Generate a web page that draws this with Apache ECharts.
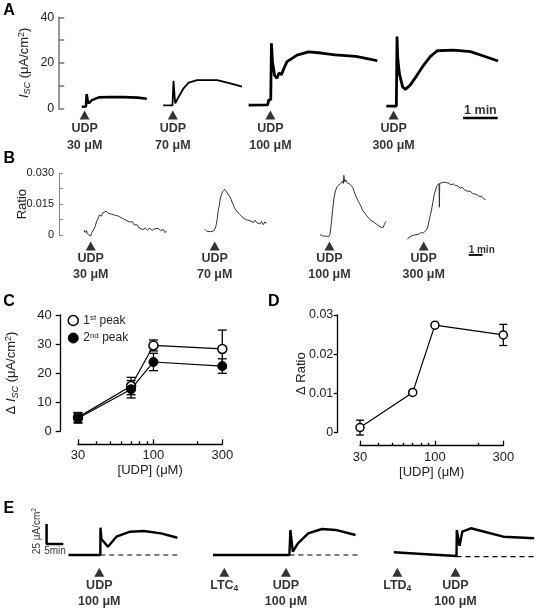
<!DOCTYPE html>
<html><head><meta charset="utf-8">
<script src="https://cdn.jsdelivr.net/npm/echarts@6/dist/echarts.min.js"></script>
<style>html,body{margin:0;padding:0;background:#fff}#c{width:537px;height:611px}</style>
</head><body><div id="c"></div>
<script>
// ---------- DATA ----------
// Panel A: Isc traces (x: minutes along panel, y: uA/cm2)
const traceA1 = [[0.68,0.7],[0.80,0.8],[0.82,6.2],[0.85,3.2],[0.88,2.2],[0.97,3.6],[1.17,4.8],[1.5,5.0],[1.9,4.9],[2.3,4.7],[2.56,4.2]];
const traceA2 = [[3.03,1.3],[3.30,1.3],[3.33,12.1],[3.36,5.5],[3.38,2.2],[3.48,5.1],[3.62,8.8],[3.77,11.3],[4.01,12.4],[4.59,12.4],[4.97,11.0],[5.31,9.5]];
const traceA3 = [[5.5,1.4],[6.05,1.5],[6.08,3.6],[6.14,3.8],[6.16,28.6],[6.19,20.5],[6.25,14.5],[6.32,13.2],[6.38,15.5],[6.45,14.8],[6.52,17.5],[6.61,20.5],[6.9,23.4],[7.23,24.8],[7.6,24.3],[8.0,23.5],[8.6,22.8],[9.0,21.6],[9.22,20.9]];
const traceA4 = [[9.48,1.0],[9.77,1.0],[9.79,31.5],[9.81,22.0],[9.86,15.0],[9.95,9.5],[10.03,8.3],[10.17,10.2],[10.37,14.6],[10.56,19.0],[10.75,22.7],[10.95,25.3],[11.42,25.6],[11.91,24.9],[12.29,23.0],[12.71,20.8]];
const arrowsA = [0.76, 3.31, 6.13, 9.69];
const doseLabelsA = ['30 μM', '70 μM', '100 μM', '300 μM'];
const scaleA = [[11.7, -4.3], [12.7, -4.3]];

// Panel B: ratio traces
const traceB1 = [[1.62,0.0024],[1.7,0.0012],[1.78,0.0022],[1.84,0.0006],[1.95,0.0014],[2.06,-0.0005],[2.12,0.0010],[2.18,0.0003],[2.28,0.0030],[2.35,0.0042],[2.45,0.0068],[2.55,0.0082],[2.62,0.0097],[2.75,0.0092],[2.85,0.0108],[2.95,0.0102],[3.06,0.0116],[3.2,0.0106],[3.3,0.0113],[3.42,0.0101],[3.51,0.0108],[3.65,0.0096],[3.75,0.0103],[3.85,0.0092],[3.95,0.0098],[4.1,0.0082],[4.2,0.0088],[4.35,0.0072],[4.45,0.0077],[4.62,0.0062],[4.75,0.0066],[4.9,0.0048],[5.05,0.0052],[5.17,0.0036],[5.29,0.0040],[5.45,0.0026],[5.6,0.0034],[5.75,0.0024],[5.9,0.0033],[6.05,0.0022],[6.18,0.0030],[6.3,0.0022],[6.45,0.0032],[6.6,0.0020],[6.75,0.0028],[6.88,0.0012],[7.0,0.0020]];
const traceB2 = [[9.47,0.0028],[9.6,0.0018],[9.72,0.0026],[9.85,0.0016],[9.95,0.0024],[10.05,0.0020],[10.18,0.0040],[10.28,0.0080],[10.34,0.0120],[10.4,0.0140],[10.48,0.0180],[10.55,0.0195],[10.62,0.0212],[10.7,0.0205],[10.77,0.0222],[10.84,0.0215],[10.92,0.0205],[11.0,0.0198],[11.1,0.0185],[11.18,0.0176],[11.3,0.0150],[11.4,0.0132],[11.5,0.0120],[11.6,0.0112],[11.73,0.0100],[11.85,0.0096],[11.95,0.0084],[12.05,0.0090],[12.15,0.0074],[12.25,0.0082],[12.4,0.0070],[12.5,0.0078],[12.62,0.0060],[12.72,0.0072],[12.84,0.0060],[12.95,0.0068],[13.05,0.0054],[13.15,0.0066],[13.27,0.0050],[13.37,0.0064],[13.47,0.0056]];
const traceB3 = [[16.96,0.0002],[17.1,-0.0004],[17.22,0.0004],[17.35,-0.0006],[17.45,0.0002],[17.52,-0.0008],[17.6,0.0004],[17.7,0.0070],[17.78,0.0130],[17.86,0.0180],[17.95,0.0215],[18.07,0.0236],[18.17,0.0232],[18.27,0.0250],[18.35,0.0245],[18.41,0.0262],[18.46,0.0250],[18.5,0.0290],[18.55,0.0258],[18.62,0.0268],[18.7,0.0255],[18.78,0.0262],[18.88,0.0248],[18.97,0.0240],[19.07,0.0232],[19.17,0.0210],[19.27,0.0190],[19.4,0.0168],[19.52,0.0152],[19.62,0.0138],[19.72,0.0118],[19.85,0.0108],[19.96,0.0096],[20.08,0.0090],[20.2,0.0074],[20.3,0.0080],[20.41,0.0064],[20.52,0.0070],[20.63,0.0052],[20.74,0.0058],[20.85,0.0040],[20.95,0.0048],[21.05,0.0036],[21.13,0.0052],[21.23,0.0066]];
const traceB4 = [[22.63,-0.0021],[22.75,-0.0010],[22.9,-0.0004],[23.08,0.0000],[23.2,0.0008],[23.35,0.0004],[23.52,0.0012],[23.65,0.0010],[23.76,0.0018],[23.86,0.0024],[23.95,0.0040],[24.05,0.0075],[24.12,0.0100],[24.19,0.0122],[24.28,0.0160],[24.36,0.0195],[24.44,0.0215],[24.52,0.0236],[24.6,0.0240],[24.68,0.0251],[24.7,0.0135],[24.72,0.0250],[24.8,0.0246],[24.9,0.0256],[25.0,0.0250],[25.08,0.0256],[25.2,0.0248],[25.32,0.0252],[25.45,0.0244],[25.6,0.0248],[25.75,0.0240],[25.9,0.0238],[26.05,0.0228],[26.2,0.0232],[26.32,0.0220],[26.42,0.0224],[26.55,0.0212],[26.7,0.0214],[26.85,0.0202],[26.97,0.0206],[27.08,0.0198],[27.2,0.0196],[27.32,0.0186],[27.45,0.0188],[27.58,0.0176],[27.7,0.0172]];
const arrowsB = [2.06, 10.11, 17.56, 23.68];
const doseLabelsB = ['30 μM', '70 μM', '100 μM', '300 μM'];
const scaleB = [[26.6, -0.0097], [27.5, -0.0097]];

// Panels C & D: dose response
const doses = [30, 70, 100, 300];
const peak1 = [4.7, 15.5, 29.5, 28.3];
const peak1Err = [1.7, 3.0, 1.9, 6.5];
const peak2 = [4.4, 14.4, 23.8, 22.4];
const peak2Err = [1.7, 3.0, 3.0, 2.5];
const ratio = [0.0012, 0.0102, 0.0274, 0.0249];
const ratioErr = [0.0019, 0.0004, 0.0004, 0.0027];
const doseTicksMajor = [30, 100, 300];
const doseTicksMinor = [40, 50, 60, 70, 80, 90, 200];

// Panel E
const traceE1 = [[8.48,0],[17.95,0],[18.0,34.1],[18.3,20],[20.21,10.4],[22.74,22.9],[26.82,29.1],[30.89,30],[36.01,27.1],[40.89,21.6]];
const traceE2 = [[51.49,0],[74.23,0],[74.52,31.3],[75.24,4.1],[76.76,14.6],[79.82,27.1],[83.9,32.5],[87.98,31.3],[93.9,25]];
const traceE3 = [[105.3,3.4],[115,1],[123.96,-1.3],[124.05,31.3],[124.88,11.6],[125.68,29.1],[128.24,33.4],[132.83,28.4],[137.92,22.9],[147.08,20.9]];
const baseE1 = [[17.95,0],[41.6,0]];
const baseE2 = [[74.23,0],[94.5,0]];
const baseE3 = [[123.96,-2],[147.1,-2]];
const arrowsE = [17.65, 54.85, 73.21, 106.34, 123.66];
const labelsE = ['UDP\n100 μM', 'LTC{sub|4}', 'UDP\n100 μM', 'LTD{sub|4}', 'UDP\n100 μM'];
const scaleE = [[6.96,13.75],[1.96,13.75],[1.96,38.75]];

// ---------- CHART ----------
const FF = '"Liberation Sans", Arial, Helvetica, sans-serif';
const TXT = '#222';
const chart = echarts.init(document.getElementById('c'), null, {renderer: 'canvas'});

function rich(size) {
  return {
    i: {fontStyle: 'italic', fontSize: size, fontFamily: FF, color: TXT},
    si: {fontStyle: 'italic', fontSize: size - 4, fontFamily: FF, color: TXT, padding: [7, 0, 0, 0]},
    sub: {fontSize: size - 4, fontFamily: FF, color: TXT, padding: [7, 0, 0, 0]},
    sup: {fontSize: size - 4, fontFamily: FF, color: TXT, padding: [0, 0, 6, 0]}
  };
}

function traceSeries(xi, data, w, color) {
  return {type: 'line', xAxisIndex: xi, yAxisIndex: xi, data: data, showSymbol: false, symbol: 'none',
    clip: false, silent: true, lineStyle: {color: color || '#000', width: w}, z: 3};
}
function arrowSeries(ai, times, yv, labels, lineH, dist, fs) {
  return {type: 'scatter', xAxisIndex: ai, yAxisIndex: ai, symbol: 'triangle', symbolSize: [10, 9],
    itemStyle: {color: '#000'}, clip: false, silent: true,
    data: times.map((t, i) => ({value: [t, yv], label: {formatter: labels[i]}})),
    label: {show: true, position: 'bottom', distance: dist, fontFamily: FF, fontWeight: 'bold', fontSize: fs,
      color: '#000', lineHeight: lineH, align: 'center',
      rich: {sub: {fontSize: fs - 4, fontWeight: 'bold', fontFamily: FF, color: '#000', padding: [7, 0, 0, 0]}}}};
}
function textPoint(ai, pt, text, lab) {
  return {type: 'scatter', xAxisIndex: ai, yAxisIndex: ai, symbolSize: 0, clip: false, silent: true,
    data: [{value: pt, label: Object.assign({show: true, formatter: text, fontFamily: FF, color: '#000'}, lab)}]};
}
function errRender(capW) {
  return function (params, api) {
    const x = api.value(0), lo = api.value(1), hi = api.value(2);
    const a = api.coord([x, lo]), b = api.coord([x, hi]);
    const st = {stroke: '#000', lineWidth: 1.3};
    return {type: 'group', children: [
      {type: 'line', shape: {x1: a[0], y1: a[1], x2: b[0], y2: b[1]}, style: st},
      {type: 'line', shape: {x1: a[0] - capW / 2, y1: a[1], x2: a[0] + capW / 2, y2: a[1]}, style: st},
      {type: 'line', shape: {x1: b[0] - capW / 2, y1: b[1], x2: b[0] + capW / 2, y2: b[1]}, style: st}
    ]};
  };
}
function hiddenX(gi, min, max) { return {gridIndex: gi, type: 'value', min: min, max: max, show: false}; }
function logX(gi, major) {
  return {gridIndex: gi, type: 'log', logBase: 10, min: 30, max: 300, position: 'bottom', offset: gi === 2 ? 13.3 : 13.4,
    axisLine: {show: major, onZero: false, lineStyle: {color: '#000', width: 1.3}},
    axisTick: {show: true, inside: true, length: major ? 5 : 3, customValues: major ? doseTicksMajor : doseTicksMinor,
      lineStyle: {color: '#000', width: 1.3}},
    axisLabel: {show: major, customValues: doseTicksMajor, margin: 5, fontSize: 13, color: TXT, fontFamily: FF},
    splitLine: {show: false},
    name: major ? '[UDP] (μM)' : '', nameLocation: 'middle', nameGap: 20, nameMoveOverlap: false,
    nameTextStyle: {fontSize: 13, color: TXT, fontFamily: FF}};
}

const option = {
  animation: false,
  backgroundColor: '#fff',
  textStyle: {fontFamily: FF},
  grid: [
    {left: 58.3, top: 17.3, width: 449.8, height: 91, outerBoundsMode: 'none'},
    {left: 59, top: 173.3, width: 446.6, height: 61.7, outerBoundsMode: 'none'},
    {left: 78, top: 315, width: 144.3, height: 116, outerBoundsMode: 'none'},
    {left: 360, top: 315, width: 143.3, height: 117.3, outerBoundsMode: 'none'},
    {left: 40, top: 515, width: 497.28, height: 60, outerBoundsMode: 'none'}
  ],
  xAxis: [
    hiddenX(0, 0, 13),
    hiddenX(1, 0, 29),
    logX(2, true),
    logX(3, true),
    hiddenX(4, 0, 148),
    logX(2, false),
    logX(3, false)
  ],
  yAxis: [
    {gridIndex: 0, type: 'value', min: 0, max: 40, interval: 10,
      axisLine: {show: true, onZero: false, lineStyle: {color: '#777', width: 1.5}},
      axisTick: {show: true, inside: true, length: 6, lineStyle: {color: '#777', width: 1.5}},
      axisLabel: {formatter: v => (v % 20 === 0 ? String(v) : ''), margin: 4, fontSize: 12.5, color: TXT, fontFamily: FF},
      splitLine: {show: false},
      name: '{i|I}{si|SC} (μA/cm{sup|2})', nameLocation: 'middle', nameGap: 26, nameMoveOverlap: false,
      nameTextStyle: {fontSize: 13, color: TXT, fontFamily: FF, rich: rich(13)}},
    {gridIndex: 1, type: 'value', min: 0, max: 0.03, interval: 0.0075,
      axisLine: {show: true, onZero: false, lineStyle: {color: '#888', width: 1}},
      axisTick: {show: true, inside: true, length: 4, lineStyle: {color: '#888', width: 1}},
      axisLabel: {formatter: v => (Math.abs(v) < 1e-9 ? '0' : Math.abs(v - 0.015) < 1e-9 ? '0.015' : Math.abs(v - 0.03) < 1e-9 ? '0.030' : ''),
        margin: 5, fontSize: 11, color: TXT, fontFamily: FF},
      splitLine: {show: false},
      name: 'Ratio', nameLocation: 'middle', nameGap: 30, nameMoveOverlap: false,
      nameTextStyle: {fontSize: 13, color: TXT, fontFamily: FF}},
    {gridIndex: 2, type: 'value', min: 0, max: 40, interval: 10, position: 'left', offset: 17.3,
      axisLine: {show: true, onZero: false, lineStyle: {color: '#000', width: 1.3}},
      axisTick: {show: true, length: 5, lineStyle: {color: '#000', width: 1.3}},
      axisLabel: {margin: 9, fontSize: 13, color: TXT, fontFamily: FF},
      splitLine: {show: false},
      name: 'Δ {i|I}{si|SC} (μA/cm{sup|2})', nameLocation: 'middle', nameGap: 41, nameMoveOverlap: false,
      nameTextStyle: {fontSize: 13, color: TXT, fontFamily: FF, rich: rich(13)}},
    {gridIndex: 3, type: 'value', min: 0, max: 0.03, interval: 0.01, position: 'left', offset: 22.7,
      axisLine: {show: true, onZero: false, lineStyle: {color: '#000', width: 1.3}},
      axisTick: {show: true, length: 3.5, lineStyle: {color: '#000', width: 1.3}},
      axisLabel: {formatter: v => (Math.abs(v) < 1e-9 ? '0' : v.toFixed(2)), margin: 4, fontSize: 12.5, color: TXT, fontFamily: FF},
      splitLine: {show: false},
      name: 'Δ Ratio', nameLocation: 'middle', nameGap: 29, nameMoveOverlap: false,
      nameTextStyle: {fontSize: 13, color: TXT, fontFamily: FF}},
    {gridIndex: 4, type: 'value', min: -25, max: 50, show: false}
  ],
  legend: {
    show: true, orient: 'vertical', left: 67.5, top: 314, itemWidth: 10, itemHeight: 10, itemGap: 5,
    padding: 0, selectedMode: false, icon: 'circle',
    data: [
      {name: '1st peak', itemStyle: {color: '#fff', borderColor: '#000', borderWidth: 1.5}},
      {name: '2nd peak', itemStyle: {color: '#000', borderColor: '#000', borderWidth: 1}}
    ],
    formatter: n => (n === '1st peak' ? '1{sup|st} peak' : '2{sup|nd} peak'),
    textStyle: {fontFamily: FF, fontSize: 12, color: TXT, rich: {sup: {fontSize: 8, fontFamily: FF, color: TXT, padding: [0, 0, 5, 0]}}}
  },
  graphic: [
    {type: 'text', left: 3.3, top: 2.5, style: {text: 'A', font: 'bold 16px ' + FF, fill: '#000'}},
    {type: 'text', left: 3.4, top: 150.8, style: {text: 'B', font: 'bold 16px ' + FF, fill: '#000'}},
    {type: 'text', left: 3.3, top: 293.3, style: {text: 'C', font: 'bold 16px ' + FF, fill: '#000'}},
    {type: 'text', left: 268, top: 293.3, style: {text: 'D', font: 'bold 16px ' + FF, fill: '#000'}},
    {type: 'text', left: 3.4, top: 500.3, style: {text: 'E', font: 'bold 16px ' + FF, fill: '#000'}}
  ],
  series: [
    // A
    traceSeries(0, traceA1, 2.6), traceSeries(0, traceA2, 1.8), traceSeries(0, traceA3, 2.8), traceSeries(0, traceA4, 2.8),
    arrowSeries(0, arrowsA, -2.9, doseLabelsA.map(d => 'UDP\n' + d), 16.7, 1, 12.5),
    traceSeries(0, scaleA, 2.5),
    textPoint(0, [12.2, -4.3], '1 min', {position: 'top', distance: 1, fontWeight: 'bold', fontSize: 12.5}),
    // B
    traceSeries(1, traceB1, 1, '#333'), traceSeries(1, traceB2, 1, '#333'), traceSeries(1, traceB3, 1, '#333'), traceSeries(1, traceB4, 1, '#333'),
    arrowSeries(1, arrowsB, -0.00535, doseLabelsB.map(d => 'UDP\n' + d), 15.7, 0.5, 12.5),
    traceSeries(1, scaleB, 1.8),
    textPoint(1, [26.6, -0.0097], '1 min', {position: 'top', align: 'left', distance: 0, fontWeight: 'bold', fontSize: 10}),
    // C
    {type: 'custom', xAxisIndex: 2, yAxisIndex: 2, clip: false, silent: true, z: 2, renderItem: errRender(9),
      encode: {x: 0, y: [1, 2]}, data: doses.map((d, i) => [d, peak1[i] - peak1Err[i], peak1[i] + peak1Err[i]])},
    {type: 'custom', xAxisIndex: 2, yAxisIndex: 2, clip: false, silent: true, z: 2, renderItem: errRender(9),
      encode: {x: 0, y: [1, 2]}, data: doses.map((d, i) => [d, peak2[i] - peak2Err[i], peak2[i] + peak2Err[i]])},
    {type: 'line', name: '1st peak', xAxisIndex: 2, yAxisIndex: 2, data: doses.map((d, i) => [d, peak1[i]]),
      symbol: 'circle', symbolSize: 9, showSymbol: true, clip: false, silent: true, z: 3,
      itemStyle: {color: '#fff', borderColor: '#000', borderWidth: 1.5}, lineStyle: {color: '#000', width: 1.2}},
    {type: 'line', name: '2nd peak', xAxisIndex: 2, yAxisIndex: 2, data: doses.map((d, i) => [d, peak2[i]]),
      symbol: 'circle', symbolSize: 9, showSymbol: true, clip: false, silent: true, z: 4,
      itemStyle: {color: '#000', borderColor: '#000', borderWidth: 1}, lineStyle: {color: '#000', width: 1.2}},
    // D
    {type: 'custom', xAxisIndex: 3, yAxisIndex: 3, clip: false, silent: true, z: 2, renderItem: errRender(8),
      encode: {x: 0, y: [1, 2]}, data: doses.map((d, i) => [d, ratio[i] - ratioErr[i], ratio[i] + ratioErr[i]])},
    {type: 'line', name: 'ratio', xAxisIndex: 3, yAxisIndex: 3, data: doses.map((d, i) => [d, ratio[i]]),
      symbol: 'circle', symbolSize: 8, showSymbol: true, clip: false, silent: true, z: 3,
      itemStyle: {color: '#fff', borderColor: '#000', borderWidth: 1.5}, lineStyle: {color: '#000', width: 1.2}},
    // E
    traceSeries(4, traceE1, 2.4), traceSeries(4, traceE2, 2.4), traceSeries(4, traceE3, 2.4),
    Object.assign(traceSeries(4, baseE1, 1.2), {lineStyle: {color: '#000', width: 1.2, type: [5, 4]}}),
    Object.assign(traceSeries(4, baseE2, 1.2), {lineStyle: {color: '#000', width: 1.2, type: [5, 4]}}),
    Object.assign(traceSeries(4, baseE3, 1.2), {lineStyle: {color: '#000', width: 1.2, type: [5, 4]}}),
    arrowSeries(4, arrowsE, -21.6, labelsE, 16, 0.5, 12.5),
    traceSeries(4, scaleE, 2.5),
    textPoint(4, [4.46, 13.75], '5min', {position: 'bottom', distance: 2, fontSize: 10}),
    textPoint(4, [-0.9, 30], '25 μA/cm{sup|2}', {position: 'inside', rotate: 90, fontSize: 10,
      rich: {sup: {fontSize: 7, fontFamily: FF, color: '#000', padding: [0, 0, 5, 0]}}})
  ]
};
chart.setOption(option);
</script></body></html>
